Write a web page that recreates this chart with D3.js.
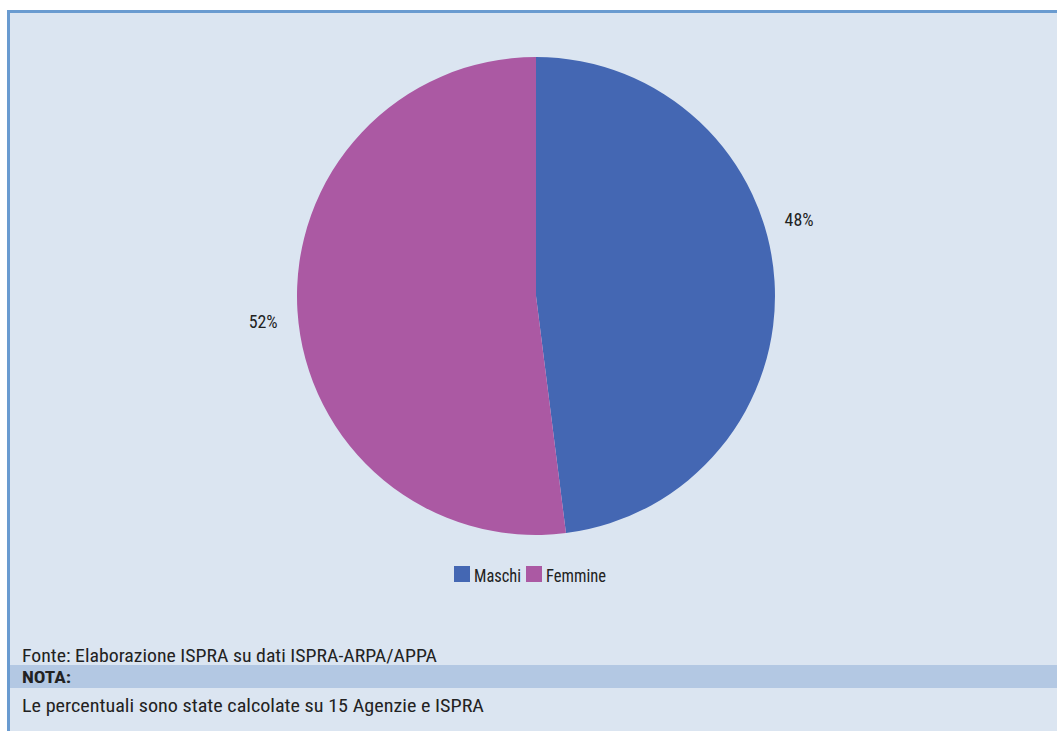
<!DOCTYPE html>
<html><head><meta charset="utf-8">
<script src="https://cdn.jsdelivr.net/npm/d3@7"></script>
<style>
html,body{margin:0;padding:0;background:#fff;}
svg{display:block;}
text{font-family:"Liberation Sans Narrow","Roboto Condensed","Liberation Sans",sans-serif;fill:#222;}
</style></head>
<body>
<svg id="c" width="1057" height="731"></svg>
<script>
const categories = ["Maschi", "Femmine"];
const values = [48, 52];
const labels = ["48%", "52%"];
const colors = ["#4467b3", "#ab59a3"];
const source = "Fonte: Elaborazione ISPRA su dati ISPRA-ARPA/APPA";
const noteTitle = "NOTA:";
const noteText = "Le percentuali sono state calcolate su 15 Agenzie e ISPRA";

const svg = d3.select("#c");
svg.append("rect").attr("x",7).attr("y",10).attr("width",1050).attr("height",721).attr("fill","#dbe5f1");
svg.append("rect").attr("x",7).attr("y",10).attr("width",1050).attr("height",3).attr("fill","#6a9bd0");
svg.append("rect").attr("x",7).attr("y",10).attr("width",3).attr("height",721).attr("fill","#6a9bd0");
svg.append("rect").attr("x",10).attr("y",665).attr("width",1047).attr("height",23).attr("fill","#b3c8e3");

const cx = 536, cy = 296, r = 239;
const pie = d3.pie().sort(null).value(d => d)(values);
const arc = d3.arc().innerRadius(0).outerRadius(r);
const g = svg.append("g").attr("transform", `translate(${cx},${cy})`);
g.selectAll("path").data(pie).join("path")
  .attr("d", arc).attr("fill", (d,i) => colors[i]);

const labelR = r + 35;
const angleShift = [-0.22, -0.03];
g.selectAll("text.lbl").data(pie).join("text").attr("class","lbl")
  .attr("transform", (d,i) => {
    const a = (d.startAngle + d.endAngle)/2 + angleShift[i];
    return `translate(${labelR*Math.sin(a)},${-labelR*Math.cos(a)})`;
  })
  .attr("text-anchor","middle").attr("dy","0.35em")
  .attr("font-size",19)
  .attr("textLength",29).attr("lengthAdjust","spacingAndGlyphs")
  .text((d,i) => labels[i]);

const leg = svg.append("g");
const legX = [454, 526];
const legW = [47, 60];
categories.forEach((c,i) => {
  leg.append("rect").attr("x",legX[i]).attr("y",566).attr("width",16).attr("height",16).attr("fill",colors[i]);
  leg.append("text").attr("x",legX[i]+20).attr("y",582).attr("font-size",19)
    .attr("textLength",legW[i]).attr("lengthAdjust","spacingAndGlyphs").text(c);
});

svg.append("text").attr("x",22).attr("y",662).attr("font-size",18)
  .attr("textLength",415).attr("lengthAdjust","spacingAndGlyphs").text(source);
svg.append("text").attr("x",22).attr("y",683).attr("font-size",17).attr("font-weight","bold")
  .attr("textLength",49).attr("lengthAdjust","spacingAndGlyphs").text(noteTitle);
svg.append("text").attr("x",22).attr("y",712).attr("font-size",18)
  .attr("textLength",462).attr("lengthAdjust","spacingAndGlyphs").text(noteText);
</script>
</body></html>
